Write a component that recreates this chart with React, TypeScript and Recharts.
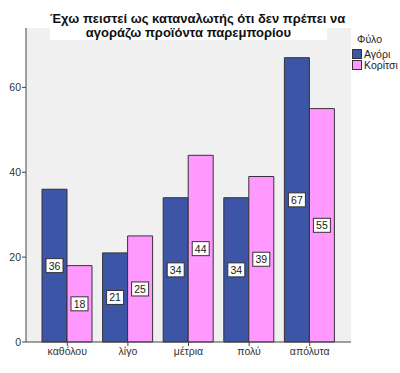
import React from "react";
import {
  BarChart,
  Bar,
  XAxis,
  YAxis,
  CartesianGrid,
  LabelList,
} from "recharts";

const CATEGORIES = ["καθόλου", "λίγο", "μέτρια", "πολύ", "απόλυτα"];
const BOYS = [36, 21, 34, 34, 67];
const GIRLS = [18, 25, 44, 39, 55];
const Y_TICKS = [0, 20, 40, 60];

const TITLE_LINES = [
  "Έχω πειστεί ως καταναλωτής ότι δεν πρέπει να",
  "αγοράζω προϊόντα παρεμπορίου",
];
const LEGEND_TITLE = "Φύλο";
const SERIES = [
  { key: "boys", name: "Αγόρι", color: "#3d55a6" },
  { key: "girls", name: "Κορίτσι", color: "#ff99ff" },
];

const data = CATEGORIES.map((cat, i) => ({
  cat,
  boys: BOYS[i],
  girls: GIRLS[i],
}));

const FONT = '"Liberation Sans", Arial, sans-serif';
const EDGE = "#444";

// white boxed value label in the middle of each bar
const BoxLabel = (props: any) => {
  const { x, y, width, height, value } = props;
  const cx = x + width / 2;
  const cy = y + height / 2;
  const w = String(value).length * 6 + 5;
  return (
    <g>
      <rect
        x={cx - w / 2}
        y={cy - 7}
        width={w}
        height={14}
        fill="#fff"
        stroke="#333"
        strokeWidth={1}
      />
      <text
        x={cx}
        y={cy + 4}
        textAnchor="middle"
        fontSize={10.5}
        fontFamily={FONT}
        fill="#222"
      >
        {value}
      </text>
    </g>
  );
};

const LegendBox = () => (
  <div
    style={{
      position: "absolute",
      left: 352,
      top: 33,
      fontFamily: FONT,
      fontSize: 10.5,
      color: "#222",
    }}
  >
    <div style={{ marginLeft: 5, marginBottom: 3 }}>{LEGEND_TITLE}</div>
    {SERIES.map((s) => (
      <div
        key={s.key}
        style={{ display: "flex", alignItems: "center", height: 11 }}
      >
        <span
          style={{
            display: "inline-block",
            width: 8,
            height: 8,
            background: s.color,
            border: "1px solid #333",
            marginRight: 2,
          }}
        />
        {s.name}
      </div>
    ))}
  </div>
);

export default function App() {
  return (
    <div
      style={{
        position: "absolute",
        left: 0,
        top: 0,
        width: 400,
        height: 373,
        background: "#fff",
      }}
    >
      <BarChart
        width={400}
        height={373}
        data={data}
        margin={{ top: 28, right: 49, bottom: 11, left: 6 }}
        barCategoryGap={5}
        barGap={0}
      >
        <CartesianGrid
          fill="#f0f0f0"
          stroke="none"
          horizontal={false}
          vertical={false}
        />
        <XAxis
          dataKey="cat"
          padding={{ left: 11, right: 11 }}
          height={20}
          tick={{ fill: "#333", fontSize: 10.5, fontFamily: FONT }}
          tickSize={4}
          tickLine={{ stroke: EDGE }}
          axisLine={{ stroke: EDGE }}
          interval={0}
        />
        <XAxis
          xAxisId="top"
          dataKey="cat"
          orientation="top"
          height={0}
          tick={false}
          tickLine={false}
          axisLine={{ stroke: EDGE }}
        />
        <YAxis
          domain={[0, 74]}
          ticks={Y_TICKS}
          width={20}
          tick={{ fill: "#333", fontSize: 10.5, fontFamily: FONT }}
          tickSize={4}
          tickMargin={1}
          tickLine={{ stroke: EDGE }}
          axisLine={{ stroke: EDGE }}
        />
        <YAxis
          yAxisId="right"
          orientation="right"
          domain={[0, 74]}
          width={0}
          tick={false}
          tickLine={false}
          axisLine={{ stroke: "#888" }}
        />
        {SERIES.map((s) => (
          <Bar
            key={s.key}
            dataKey={s.key}
            name={s.name}
            fill={s.color}
            stroke="#333"
            strokeWidth={1}
            isAnimationActive={false}
          >
            <LabelList dataKey={s.key} content={<BoxLabel />} />
          </Bar>
        ))}
      </BarChart>
      <LegendBox />
      <div
        style={{
          position: "absolute",
          left: 50,
          top: 10,
          width: 277,
          height: 30,
          background: "#fff",
          fontFamily: FONT,
          fontWeight: "bold",
          fontSize: 13,
          lineHeight: "14px",
          textAlign: "center",
          color: "#111",
          whiteSpace: "nowrap",
          paddingTop: 2,
          boxSizing: "border-box",
        }}
      >
        {TITLE_LINES.map((t) => (
          <div key={t}>{t}</div>
        ))}
      </div>
    </div>
  );
}
